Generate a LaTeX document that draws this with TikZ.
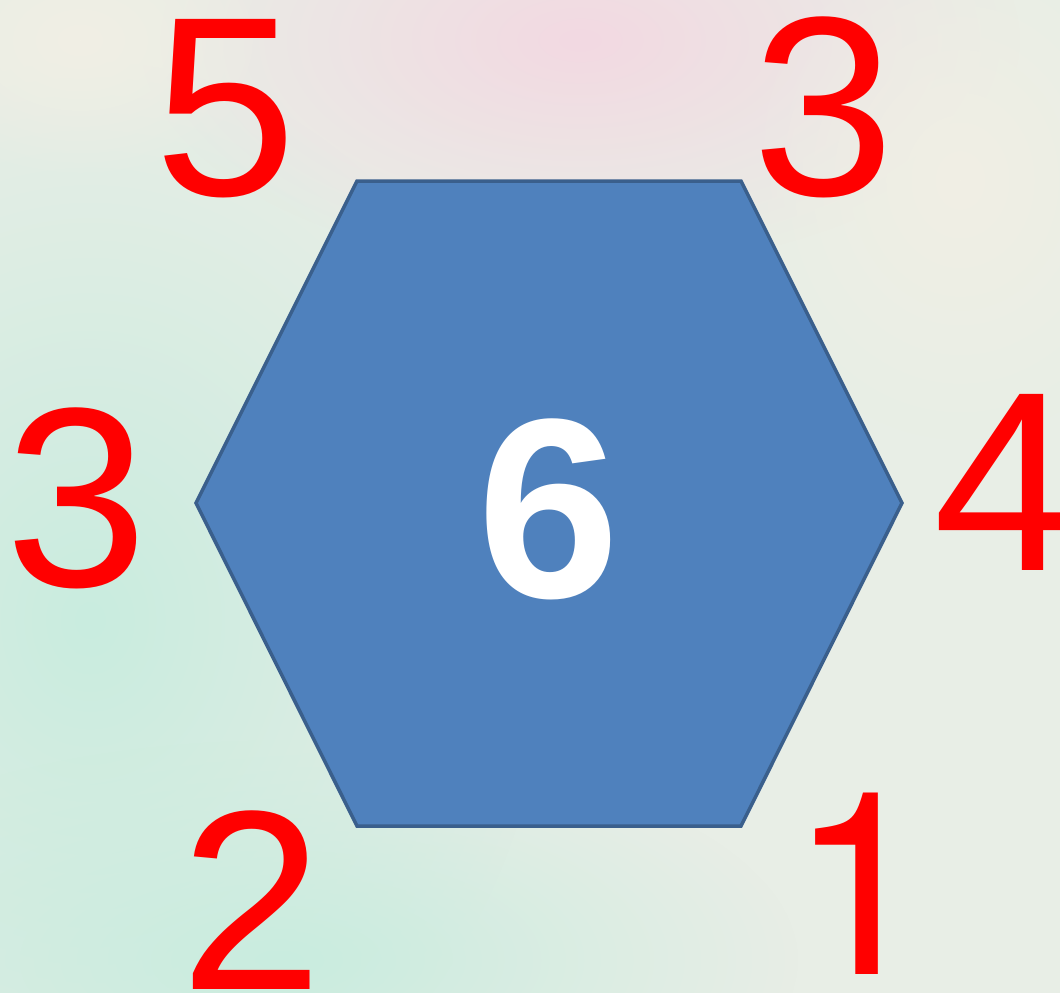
\documentclass[tikz,border=0pt]{standalone}
\usepackage{fontspec}
\setmainfont{Liberation Sans}
\newfontfamily\heros{TeX Gyre Heros}
\usetikzlibrary{fadings}
\tikzfading[name=softblob, inner color=transparent!0, outer color=transparent!100]
\definecolor{hexfill}{HTML}{4F81BD}
\definecolor{hexline}{HTML}{3A5F8C}
\definecolor{bgbase}{HTML}{E8EEE6}
\definecolor{bgteal}{HTML}{C9ECDF}
\definecolor{bgpink}{HTML}{F3D9E2}
\definecolor{bgcream}{HTML}{F1EFE4}
\tikzset{
  num/.style={text=red, font=\fontsize{256}{256}\selectfont, inner sep=0pt, anchor=base},
  center/.style={text=white, font=\fontsize{256}{256}\selectfont\bfseries, inner sep=0pt, anchor=base},
  hexa/.style={fill=hexfill, draw=hexline, line width=3.5pt, line join=miter}
}
\begin{document}
\begin{tikzpicture}[x=1pt,y=-1pt]
  \useasboundingbox (0,0) rectangle (1060,993);
  % background
  \begin{scope}
    \clip (0,0) rectangle (1060,993);
    \fill[bgbase] (0,0) rectangle (1060,993);
    \fill[bgteal, path fading=softblob] (90,620) ellipse (460 and 560);
    \fill[bgteal, path fading=softblob] (280,960) ellipse (520 and 220);
    \fill[bgpink, path fading=softblob] (580,40) ellipse (440 and 230);
    \fill[bgcream, path fading=softblob] (960,180) ellipse (220 and 260);
    \fill[bgcream, path fading=softblob] (80,40) ellipse (200 and 140);
  \end{scope}
  % hexagon
  \coordinate (v1) at (357,181);
  \coordinate (v2) at (741,181);
  \coordinate (v3) at (902,503);
  \coordinate (v4) at (741,826);
  \coordinate (v5) at (357,826);
  \coordinate (v6) at (196,503);
  \draw[hexa] (v1) -- (v2) -- (v3) -- (v4) -- (v5) -- (v6) -- cycle;
  \node[center] (six) at (549,597) {6};
  % numbers
  \node[num] (n5) at (226,195) {5};
  \node[num] (n3a) at (824,195) {3};
  \node[num] (n3b) at (77,586) {3};
  \node[num] (n4) at (1005,570) {4};
  \node[num] (n2) at (252,989) {2};
  \node[num, font=\fontsize{256}{256}\selectfont\heros] (n1) at (861,974) {1};
\end{tikzpicture}
\end{document}
